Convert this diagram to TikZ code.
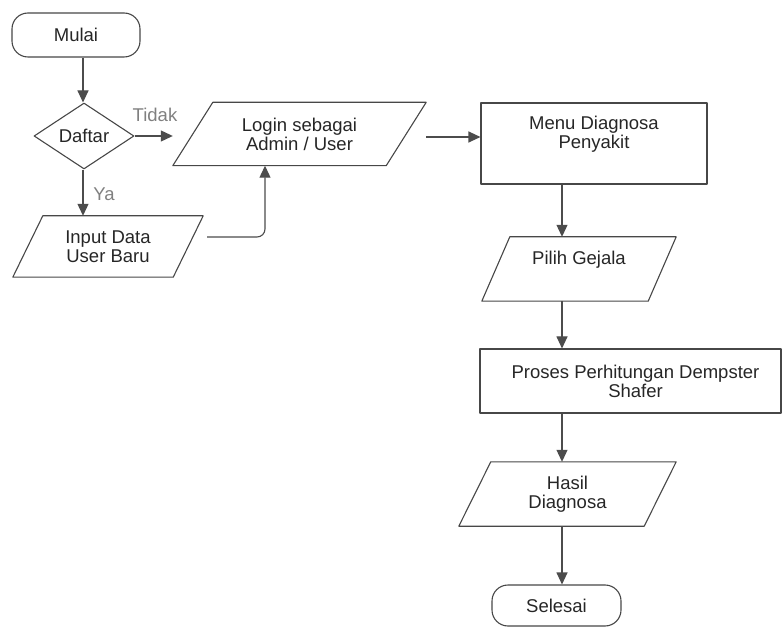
\documentclass[tikz,border=0pt]{standalone}
\usepackage{fontspec}
\setmainfont{Liberation Sans}
\usetikzlibrary{arrows.meta,shapes.geometric}

% outline of an input/output block: a parallelogram inside the node's box
\newcommand\iooutline[2]{%
  \draw[line] ([xshift=#2]#1.north west) -- (#1.north east)
    -- ([xshift=-#2]#1.south east) -- (#1.south west) -- cycle;}

\begin{document}
\begin{tikzpicture}[x=1pt,y=-1pt,
  font=\fontsize{18.5}{19}\selectfont,
  txt/.style={text=black!85, align=center},
  line/.style={draw=black!72, line width=1.1pt, line join=round},
  conn/.style={draw=black!70, line width=1.1pt, -{Triangle[length=12pt,width=11pt]}},
  lbl/.style={text=black!50},
  terminal/.style={line, rounded corners=16pt, txt, inner sep=0pt},
  procbox/.style={line, txt, inner sep=0pt},
  iobox/.style={txt, inner sep=0pt},
  decision/.style={line, diamond, txt, inner sep=0pt, aspect=1.5}]

\useasboundingbox (0,0) rectangle (782,628);

% spines for the vertical connectors
\coordinate (lspine) at (83,0);
\coordinate (rspine) at (562,0);

% ---- left column ----
\node[terminal, minimum width=128pt, minimum height=44pt] (mulai) at (76,35) {Mulai};
\node[decision, minimum width=100pt, minimum height=66pt] (daftar) at (84,136) {Daftar};
\node[iobox, minimum width=190pt, minimum height=61pt] (input) at (108,246.5) {Input Data\\User Baru};
\iooutline{input}{30pt}

% ---- login ----
\node[iobox, minimum width=253pt, minimum height=63pt] (login) at (299.5,134) {Login sebagai\\Admin / User};
\iooutline{login}{40pt}

% ---- right column ----
\node[procbox, minimum width=226pt, minimum height=81pt,
  label={[txt, yshift=9.5pt]center:{Menu Diagnosa\\Penyakit}}] (menu) at (594,143.5) {};
\node[iobox, minimum width=194pt, minimum height=64pt,
  label={[txt, yshift=9pt]center:{Pilih Gejala}}] (pilih) at (579,269) {};
\iooutline{pilih}{28pt}
\node[procbox, minimum width=301pt, minimum height=64pt,
  label={[txt, xshift=5pt]center:{Proses Perhitungan Dempster\\Shafer}}] (proses) at (630.5,381) {};
\node[iobox, minimum width=217pt, minimum height=64pt] (hasil) at (567.5,494) {Hasil\\Diagnosa};
\iooutline{hasil}{32pt}
\node[terminal, minimum width=129pt, minimum height=41pt] (selesai) at (556.5,605.5) {Selesai};

% ---- connectors ----
\draw[conn] (mulai.south -| lspine) -- (daftar.north -| lspine);
\draw[conn] (daftar.south -| lspine) -- (input.north -| lspine);
\draw[conn] (daftar.east) -- (daftar.east -| login.west);
\draw[conn, rounded corners=8pt] ([xshift=4pt,yshift=9.5pt]input.east) -| ([xshift=-34.5pt]login.south);
\draw[conn] ([yshift=-3pt]login.east) -- ([yshift=-3pt]login.east -| menu.west);
\draw[conn] (menu.south -| rspine) -- (pilih.north -| rspine);
\draw[conn] (pilih.south -| rspine) -- (proses.north -| rspine);
\draw[conn] (proses.south -| rspine) -- (hasil.north -| rspine);
\draw[conn] (hasil.south -| rspine) -- (selesai.north -| rspine);

% branch labels
\node[lbl] (tidak) at (155,115) {Tidak};
\node[lbl] (ya) at (104,194) {Ya};
\end{tikzpicture}
\end{document}
